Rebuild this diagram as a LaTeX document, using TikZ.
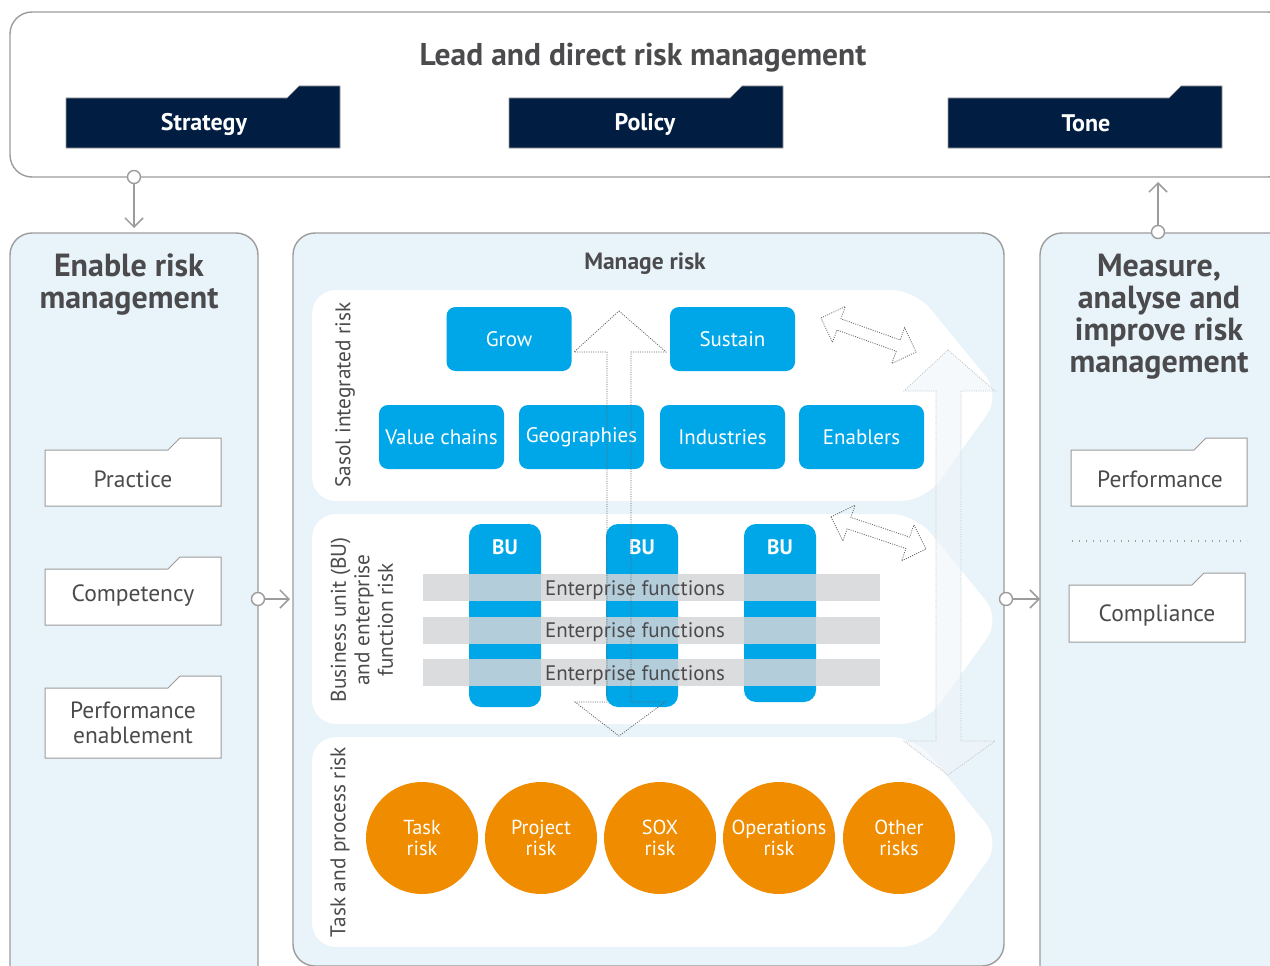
\documentclass[tikz,border=0pt]{standalone}
\usepackage{fontspec}
\setmainfont{PT Sans}
\usetikzlibrary{arrows.meta}
\definecolor{navy}{RGB}{1,30,66}
\definecolor{panelblue}{RGB}{232,243,250}
\definecolor{linegray}{RGB}{156,156,156}
\definecolor{textgray}{RGB}{75,75,77}
\definecolor{boxblue}{RGB}{0,167,232}
\definecolor{riskorange}{RGB}{240,140,0}
\definecolor{bargray}{RGB}{219,220,222}
\definecolor{overlapblue}{RGB}{180,205,218}
\definecolor{faintfill}{RGB}{240,246,251}
\definecolor{dotgray}{RGB}{100,100,100}
\definecolor{faintdot}{RGB}{195,198,200}
\newcommand\folderbox[5]{%
  \path[#5] (#1,#4) -- (#1,#2) -- ({#3-53},#2) -- ({#3-41},{#2-12}) -- (#3,{#2-12}) -- (#3,#4) -- cycle;}
\begin{document}
\begin{tikzpicture}[x=1pt,y=-1pt,
  panelbox/.style={draw=linegray, line width=1.4pt, fill=panelblue, rounded corners=22pt, inner sep=0pt, outer sep=0pt},
  chevron/.style={fill=white, rounded corners=24pt},
  navytab/.style={fill=navy, draw=linegray, line width=0.6pt},
  whitetab/.style={fill=white, draw=linegray, line width=1pt},
  tabtext/.style={text=white, font=\fontsize{24}{28}\selectfont\bfseries},
  foldertext/.style={text=textgray, font=\fontsize{23.5}{25}\selectfont, align=center},
  bigtitle/.style={text=textgray, font=\fontsize{32}{32}\selectfont\bfseries, align=center},
  bluebox/.style={fill=boxblue, rounded corners=9pt, minimum width=125pt, minimum height=64pt, inner sep=0pt, text=white, font=\fontsize{21}{24}\selectfont},
  bucol/.style={fill=boxblue, rounded corners=12pt},
  butext/.style={text=white, font=\fontsize{21}{24}\selectfont\bfseries},
  eftext/.style={text=textgray, font=\fontsize{21}{24}\selectfont},
  sidelabel/.style={text=textgray, rotate=90, align=center, font=\fontsize{21.3}{23.5}\selectfont},
  riskcircle/.style={circle, fill=riskorange, minimum size=112pt, inner sep=0pt, text=white, align=center, font=\fontsize{20.3}{21.5}\selectfont},
  darrow/.style={draw=dotgray, line width=0.8pt, dash pattern=on 1pt off 1.3pt},
  farrow/.style={draw=faintdot, line width=0.8pt, dash pattern=on 1pt off 1.3pt, fill=faintfill, fill opacity=0.6},
  conncirc/.style={circle, draw=linegray, line width=1.4pt, fill=white, minimum size=13pt, inner sep=0pt},
  conn/.style={draw=linegray, line width=1.5pt, -{Straight Barb[length=9pt,width=18pt,line width=1.5pt]}}
]
\useasboundingbox (0,0) rectangle (1270,966);
\clip (0,0) rectangle (1270,966);
\fill[white] (0,0) rectangle (1270,966);

% panels
\node[panelbox, fill=white, minimum width=1280pt, minimum height=165pt] (top) at (650,94.5) {};
\node[panelbox, minimum width=248pt, minimum height=757pt] (left) at (134,611.5) {};
\node[panelbox, minimum width=711pt, minimum height=733pt] (mid) at (648.5,599.5) {};
\node[panelbox, minimum width=260pt, minimum height=757pt] (right) at (1170,611.5) {};

% titles
\node[text=textgray, font=\fontsize{31.5}{34}\selectfont\bfseries] (ttl) at (643,58) {Lead and direct risk management};
\node[bigtitle] (ttlL) at (129,285) {Enable risk\\management};
\node[text=textgray, font=\fontsize{23.5}{26}\selectfont\bfseries] (ttlM) at (645,264) {Manage risk};
\node[bigtitle] (ttlR) at (1159,317) {Measure,\\analyse and\\improve risk\\management};

% navy tabs
\folderbox{66}{98}{340}{148}{navytab}
\folderbox{509}{98}{783}{148}{navytab}
\folderbox{948}{98}{1222}{148}{navytab}
\node[tabtext] (strategy) at (204,124) {Strategy};
\node[tabtext] (policy) at (645,124) {Policy};
\node[tabtext] (tone) at (1086,123) {Tone};

% chevron bands
\path[chevron] (312,290) -- (915,290) -- (1001,395) -- (925,501) -- (312,501) -- cycle;
\path[chevron] (312,514) -- (915,514) -- (1001,619) -- (925,724) -- (312,724) -- cycle;
\path[chevron] (312,737) -- (915,737) -- (1001,842) -- (925,947) -- (312,947) -- cycle;

% faint big double arrow
\path[farrow] (948,350) -- (995,391) -- (961,391) -- (961,741) -- (995,741) -- (948,775) -- (904,741) -- (936,741) -- (936,391) -- (904,391) -- cycle;

% side labels
\node[sidelabel] (lab1) at (345,395) {Sasol integrated risk};
\node[sidelabel] (lab2) at (362,620) {Business unit (BU)\\and enterprise\\function risk};
\node[sidelabel] (lab3) at (340,842) {Task and process risk};

% blue boxes
\node[bluebox] (grow) at (509,339) {Grow};
\node[bluebox] (sustain) at (732.5,339) {Sustain};
\node[bluebox] (value) at (441.5,437) {Value chains};
\node[bluebox] (geo) at (581.5,437) {Geographies};
\node[bluebox] (ind) at (722.5,437) {Industries};
\node[bluebox] (ena) at (861.5,437) {Enablers};

% BU columns
\path[bucol] (469,524) rectangle (541,707);
\path[bucol] (606,524) rectangle (678,707);
\path[bucol] (744,524) rectangle (816,702);
\node[butext] (bu1) at (505,547) {BU};
\node[butext] (bu2) at (642,547) {BU};
\node[butext] (bu3) at (780,547) {BU};

% enterprise function bars
\foreach \ya/\yb in {574/601, 617/644, 659/686} {
  \fill[bargray] (423,\ya) rectangle (880,\yb);
  \fill[overlapblue] (469,\ya) rectangle (541,\yb);
  \fill[overlapblue] (606,\ya) rectangle (678,\yb);
  \fill[overlapblue] (744,\ya) rectangle (816,\yb);
}
\node[eftext] (ef1) at (635,590) {Enterprise functions};
\node[eftext] (ef2) at (635,632) {Enterprise functions};
\node[eftext] (ef3) at (635,675) {Enterprise functions};

% dotted arrows
\path[darrow] (619,311) -- (666,352) -- (631,352) -- (631,702) -- (665,702) -- (619,736) -- (575,702) -- (607,702) -- (607,352) -- (574,352) -- cycle;
\path[darrow] (821,318) -- (845.3,306.5) -- (840.9,318.8) -- (900.2,340.0) -- (904.6,327.7) -- (916,352) -- (891.8,363.5) -- (896.2,351.2) -- (836.9,330.0) -- (832.5,342.3) -- cycle;
\path[darrow] (831,517) -- (855.1,505.1) -- (850.9,517.4) -- (909.7,537.1) -- (913.9,524.8) -- (926,549) -- (901.7,560.8) -- (905.9,548.5) -- (847.1,528.8) -- (842.9,541.1) -- cycle;

% risk circles
\node[riskcircle] (task) at (422,838) {Task\\risk};
\node[riskcircle] (project) at (541,838) {Project\\risk};
\node[riskcircle] (sox) at (660,838) {SOX\\risk};
\node[riskcircle] (ops) at (779,838) {Operations\\risk};
\node[riskcircle] (other) at (899,838) {Other\\risks};

% white folders left
\folderbox{45}{450}{221}{506}{whitetab}
\folderbox{45}{569}{221}{625}{whitetab}
\folderbox{45}{688}{221}{758}{whitetab}
\node[foldertext] (practice) at (133,479) {Practice};
\node[foldertext] (competency) at (133,596) {Competency};
\node[foldertext] (perfen) at (133,723) {Performance\\enablement};

% white folders right
\folderbox{1071}{450}{1247}{506}{whitetab}
\folderbox{1069}{585}{1245}{642}{whitetab}
\node[foldertext] (performance) at (1160,479) {Performance};
\node[foldertext] (compliance) at (1157,615) {Compliance};
\draw[linegray, line width=1.5pt, dash pattern=on 1.2pt off 5.8pt] (1072,541) -- (1247,541);

% connectors
\node[conncirc] (c1) at (134,177) {};
\coordinate (c1e) at (134,228);
\draw[conn] (c1) -- (c1e);
\node[conncirc] (c2) at (258,599) {};
\coordinate (c2e) at (290,599);
\draw[conn] (c2) -- (c2e);
\node[conncirc] (c3) at (1006,599) {};
\coordinate (c3e) at (1040,599);
\draw[conn] (c3) -- (c3e);
\node[conncirc] (c4) at (1158,232) {};
\coordinate (c4e) at (1158,182);
\draw[conn] (c4) -- (c4e);
\end{tikzpicture}
\end{document}
